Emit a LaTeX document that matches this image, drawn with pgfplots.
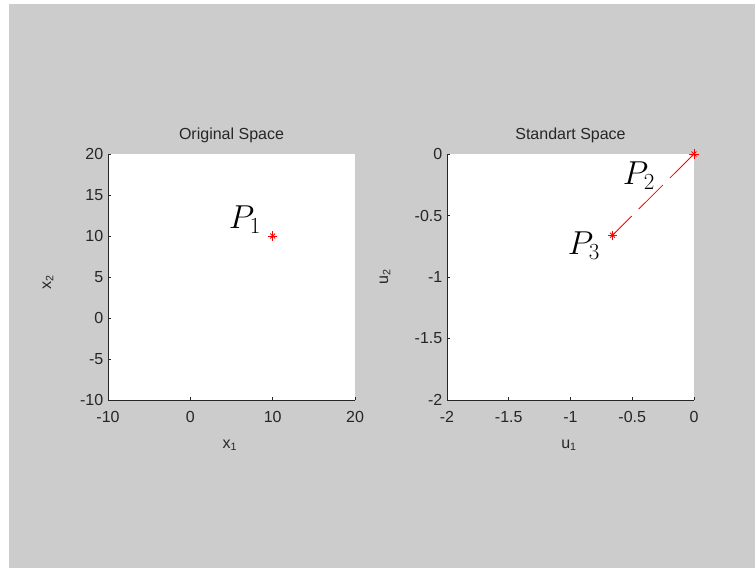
\documentclass[border=0pt]{standalone}
\usepackage{pgfplots}
\pgfplotsset{compat=1.18}
\usepackage{fontspec}
\setmainfont{Liberation Sans}
\definecolor{bg}{HTML}{CCCCCC}
\definecolor{axc}{HTML}{262626}
\pgfplotsset{
  mstyle/.style={
    scale only axis, width=185.25pt, height=184.5pt,
    axis lines*=left,
    axis background/.style={fill=white},
    axis line style={axc, line width=0.6pt},
    tick align=inside, major tick length=2.5pt,
    tick style={axc, line width=0.5pt},
    /pgf/number format/assume math mode=true,
    tick label style={font=\fontsize{12}{14}\selectfont, text=axc},
    xticklabel style={yshift=-5pt},
    label style={font=\fontsize{12}{14}\selectfont, text=axc},
    title style={font=\fontsize{12}{14}\selectfont, text=axc, at={(axis description cs:0.5,1.077)}, anchor=center, yshift=-6.5pt},
    xlabel style={at={(axis description cs:0.494,-0.183)}, anchor=center},
    clip=false,
  },
  mk/.style={red, only marks, mark size=3.4pt, mark options={solid, line width=0.7pt}},
}
\begin{document}
\begin{tikzpicture}
\fill[white] (0pt,0pt) rectangle (566.25pt,426pt);
\fill[bg] (6.75pt,0pt) rectangle (566.25pt,423pt);
\useasboundingbox (0pt,0pt) rectangle (566.25pt,426pt);

\begin{axis}[mstyle, at={(81pt,126pt)}, anchor=south west,
  xmin=-10, xmax=20, ymin=-10, ymax=20,
  xtick={-10,0,10,20}, ytick={-10,-5,0,5,10,15,20},
  title={Original Space},
  xlabel={x\textsubscript{1}}, ylabel={x\textsubscript{2}},
  ylabel style={at={(axis description cs:-0.243,0.48)}, anchor=center},
]
\addplot[mk, mark=+] coordinates {(10,10)};
\addplot[mk, mark=x, mark size=2.6pt] coordinates {(10,10)};
\node[font=\fontsize{24}{28}\selectfont] at (axis cs:6.64,11.95) {$P_1$};
\end{axis}

\begin{axis}[mstyle, at={(335.25pt,126pt)}, anchor=south west,
  xmin=-2, xmax=0, ymin=-2, ymax=0,
  xtick={-2,-1.5,-1,-0.5,0}, ytick={-2,-1.5,-1,-0.5,0},
  title={Standart Space},
  xlabel={u\textsubscript{1}}, ylabel={u\textsubscript{2}},
  ylabel style={at={(axis description cs:-0.251,0.5)}, anchor=center},
]
\addplot[red, line width=0.6pt, dash pattern=on 25.5pt off 7.5pt, no marks] coordinates {(0,0) (-0.66,-0.66)};
\addplot[mk, mark=+] coordinates {(0,0) (-0.66,-0.66)};
\addplot[mk, mark=x, mark size=2.6pt] coordinates {(0,0) (-0.66,-0.66)};
\node[font=\fontsize{24}{28}\selectfont] at (axis cs:-0.445,-0.179) {$P_2$};
\node[font=\fontsize{24}{28}\selectfont] at (axis cs:-0.891,-0.748) {$P_3$};
\end{axis}
\end{tikzpicture}
\end{document}
